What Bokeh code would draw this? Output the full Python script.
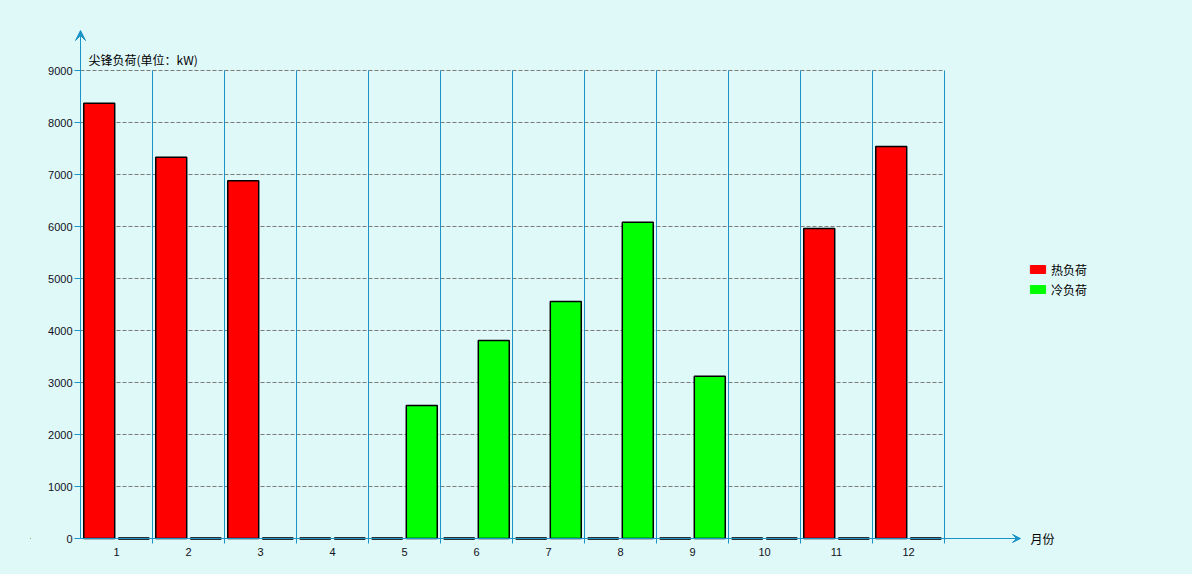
from bokeh.plotting import figure
from bokeh.models import (Range1d, FixedTicker, ColumnDataSource, Label, Arrow, VeeHead,
                          Legend, LegendItem)
from bokeh.core.properties import value
from bokeh.embed import file_html
from bokeh.resources import INLINE

# ---- data ----
months = [1, 2, 3, 4, 5, 6, 7, 8, 9, 10, 11, 12]
month_labels = ["1", "2", "3", "4", "5", "6", "7", "8", "9", "10", "11", "12"]
heat_load = [8370, 7330, 6880, 0, 0, 0, 0, 0, 0, 0, 5960, 7540]
cold_load = [0, 0, 0, 0, 2560, 3810, 4560, 6080, 3120, 0, 0, 0]
y_ticks = [0, 1000, 2000, 3000, 4000, 5000, 6000, 7000, 8000, 9000]
y_tick_labels = ["0", "1000", "2000", "3000", "4000", "5000", "6000", "7000", "8000", "9000"]
series_names = ["热负荷", "冷负荷"]
y_title = "尖锋负荷(单位：kW)"
x_title = "月份"

BG = "#DFF8F8"
AXIS = "#1A94C6"
CJK = "Noto Sans CJK SC"
TICK_FONT = "Liberation Sans"

# layout: frame spans page px x 30..1180, y 28..545 ; y axis at px 80 ; 72 px per month ; 52 px per 1000
px_per_cat = 72.0
px_per_unit = 52.0 / 1000.0
axis_x = 0.5
x_start = axis_x - 50 / px_per_cat
x_end = axis_x + 1100 / px_per_cat
y_end = (538 - 28) / px_per_unit
y_start = -(545 - 538) / px_per_unit
BAR_W = 0.43
OFF = 0.24

p = figure(width=1190, height=570, output_backend="svg", toolbar_location=None,
           x_range=Range1d(x_start, x_end), y_range=Range1d(y_start, y_end),
           min_border_left=30, min_border_right=10, min_border_top=28, min_border_bottom=25)
p.background_fill_color = BG
p.border_fill_color = BG
p.outline_line_color = None
p.xgrid.visible = False
p.ygrid.visible = False
p.yaxis.visible = False

p.xaxis.ticker = FixedTicker(ticks=months)
p.xaxis.major_label_overrides = {m: lab for m, lab in zip(months, month_labels)}
p.xaxis.axis_line_color = None
p.xaxis.major_tick_line_color = None
p.xaxis.major_tick_in = 0
p.xaxis.major_tick_out = 0
p.xaxis.minor_tick_line_color = None
p.xaxis.major_label_standoff = 2
p.xaxis.major_label_text_font = TICK_FONT
p.xaxis.major_label_text_font_size = "11px"
p.xaxis.major_label_text_color = "#111122"

# y tick marks and labels
p.segment(x0=[axis_x - 6 / px_per_cat] * len(y_ticks), x1=[axis_x] * len(y_ticks),
          y0=y_ticks, y1=y_ticks, line_color=AXIS, line_width=1)
p.text(x=[axis_x - 8 / px_per_cat] * len(y_ticks), y=y_ticks, text=y_tick_labels,
       text_font=value(TICK_FONT), text_font_size="11px", text_color="#111122",
       text_align="right", text_baseline="middle")

# horizontal dashed grid
grid_y = y_ticks[1:]
p.segment(x0=[axis_x] * len(grid_y), x1=[12.5] * len(grid_y), y0=grid_y, y1=grid_y,
          line_color="#7A7A7A", line_dash="4 2", line_width=1)

# vertical category boundaries
bounds = [m + 0.5 for m in months]
p.segment(x0=bounds, x1=bounds, y0=[-96] * len(bounds), y1=[9000] * len(bounds),
          line_color=AXIS, line_width=1)

# axis arrows
p.add_layout(Arrow(x_start=axis_x, y_start=0, x_end=axis_x, y_end=(538 - 30) / px_per_unit,
                   line_color=AXIS, line_width=1,
                   end=VeeHead(size=10, line_color=AXIS, fill_color=AXIS, line_width=1)))
p.add_layout(Arrow(x_start=axis_x, y_start=0, x_end=axis_x + (1020 - 80) / px_per_cat, y_end=0,
                   line_color=AXIS, line_width=1,
                   end=VeeHead(size=8, line_color=AXIS, fill_color=AXIS, line_width=1)))

# bars
src = ColumnDataSource(dict(m=months, heat=heat_load, cold=cold_load,
                            mh=[m - OFF for m in months], mc=[m + OFF for m in months]))
p.vbar(x="mh", top="heat", bottom=0, width=BAR_W, source=src,
       fill_color="#FF0000", line_color="#000000", line_width=1.5)
p.vbar(x="mc", top="cold", bottom=0, width=BAR_W, source=src,
       fill_color="#00FF00", line_color="#000000", line_width=1.5)

# zero-valued bars appear as flat black strokes on the baseline
zx0, zx1 = [], []
for m, h, c in zip(months, heat_load, cold_load):
    if h == 0:
        zx0.append(m - OFF - BAR_W / 2); zx1.append(m - OFF + BAR_W / 2)
    if c == 0:
        zx0.append(m + OFF - BAR_W / 2); zx1.append(m + OFF + BAR_W / 2)
p.segment(x0=zx0, x1=zx1, y0=[0] * len(zx0), y1=[0] * len(zx0),
          line_color="#000000", line_width=2.5)

# titles
p.add_layout(Label(x=axis_x + 8 / px_per_cat, y=(538 - 59) / px_per_unit, text=y_title,
                   text_font=CJK, text_font_size="12px", text_color="#000000",
                   text_baseline="middle", text_align="left"))
p.add_layout(Label(x=axis_x + (1030 - 80) / px_per_cat, y=0, text=x_title,
                   text_font=CJK, text_font_size="12px", text_color="#000000",
                   text_baseline="middle", text_align="left"))

# legend (swatches without outline)
dummy_h = p.vbar(x=[-10], top=[1], width=0.4, fill_color="#FF0000", line_color="#FF0000")
dummy_c = p.vbar(x=[-10], top=[1], width=0.4, fill_color="#00FF00", line_color="#00FF00")
legend = Legend(items=[LegendItem(label=series_names[0], renderers=[dummy_h]),
                       LegendItem(label=series_names[1], renderers=[dummy_c])],
                location=(998, 246), orientation="vertical",
                glyph_width=19, glyph_height=10, label_height=20, label_standoff=4,
                padding=0, margin=0, spacing=0,
                label_text_font=CJK, label_text_font_size="12px", label_text_color="#000000",
                background_fill_alpha=0, border_line_color=None)
p.add_layout(legend)

html = file_html(p, INLINE)
html = html.replace("<head>", "<head><style>html,body{background:%s;margin:0;padding:0;}</style>" % BG, 1)
open("out.html", "w").write(html)
